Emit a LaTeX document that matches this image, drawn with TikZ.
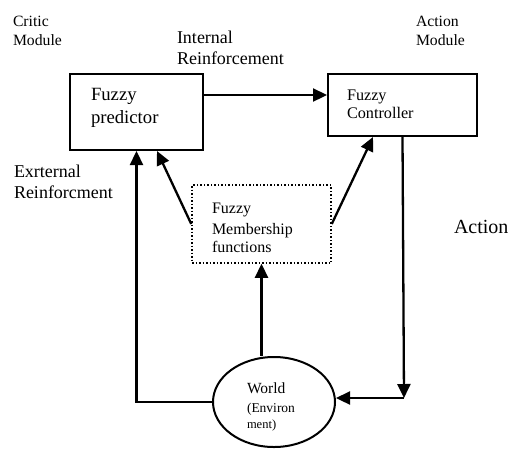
\documentclass[tikz,border=0pt]{standalone}
\usepackage{fontspec}
\setmainfont{Liberation Serif}
\usetikzlibrary{arrows.meta,shapes.geometric}
\tikzset{
  box/.style={draw,line width=2pt,inner sep=0pt},
  dotbox/.style={draw,dotted,line width=1.5pt,inner sep=0pt},
  arr/.style={line width=2.3pt,-{Triangle[length=14pt,width=13pt]}},
  txt/.style={anchor=base west,inner sep=0pt,outer sep=0pt},
}
\newcommand{\fs}[1]{\fontsize{#1}{#1}\selectfont}
\begin{document}
\begin{tikzpicture}[x=1pt,y=-1pt]
\useasboundingbox (0,0) rectangle (513,448);
% boxes
\node[box,minimum width=133pt,minimum height=76pt] (pred) at (136.5,112) {};
\node[box,minimum width=149pt,minimum height=62pt] (ctrl) at (402.5,105) {};
\node[dotbox,minimum width=139pt,minimum height=78pt] (mem) at (261.5,224) {};
\node[ellipse,draw,line width=2pt,minimum width=122pt,minimum height=90pt,inner sep=0pt] (world) at (274,402) {};
% texts
\node[txt] (t1) at (13,26) {\fs{15.7}Critic};
\node[txt] (t2) at (13,45) {\fs{15.7}Module};
\node[txt] (t3) at (177,43) {\fs{18}Internal};
\node[txt] (t4) at (177,64) {\fs{18}Reinforcement};
\node[txt] (t5) at (416,26) {\fs{15.7}Action};
\node[txt] (t6) at (416,45) {\fs{15.7}Module};
\node[txt] (t7) at (91,100) {\fs{18.7}Fuzzy};
\node[txt] (t8) at (91,123) {\fs{18.7}predictor};
\node[txt] (t9) at (347,100) {\fs{16.2}Fuzzy};
\node[txt] (t10) at (347,118) {\fs{16.2}Controller};
\node[txt] (t11) at (14,177) {\fs{18}Exrternal};
\node[txt] (t12) at (14,198) {\fs{18}Reinforcment};
\node[txt] (t13) at (212,213) {\fs{16}Fuzzy};
\node[txt] (t14) at (212,234) {\fs{16}Membership};
\node[txt] (t15) at (212,252) {\fs{16}functions};
\node[txt] (t16) at (247,393) {\fs{15.5}World};
\node[txt] (t17) at (247,412) {\fs{13.5}(Environ};
\node[txt] (t18) at (247,428) {\fs{12.5}ment)};
\node[txt] (t19) at (454,233) {\fs{20}Action};
% connectors
\coordinate (corner) at (404,398);
\draw[arr] ([yshift=17pt]pred.east) -- ([yshift=10pt]ctrl.west);
\draw[arr] (mem.west) -- ([xshift=20.5pt]pred.south);
\draw[arr] (mem.east) -- ([xshift=-29.5pt]ctrl.south);
\draw[arr] (mem.south |- world.north) -- (mem.south);
\draw[arr] (world.west) -- (world.west -| pred.south) -- (pred.south);
\draw[arr] (ctrl.south) -- (corner);
\draw[arr] (corner) -- (world.east |- corner);
\end{tikzpicture}
\end{document}
